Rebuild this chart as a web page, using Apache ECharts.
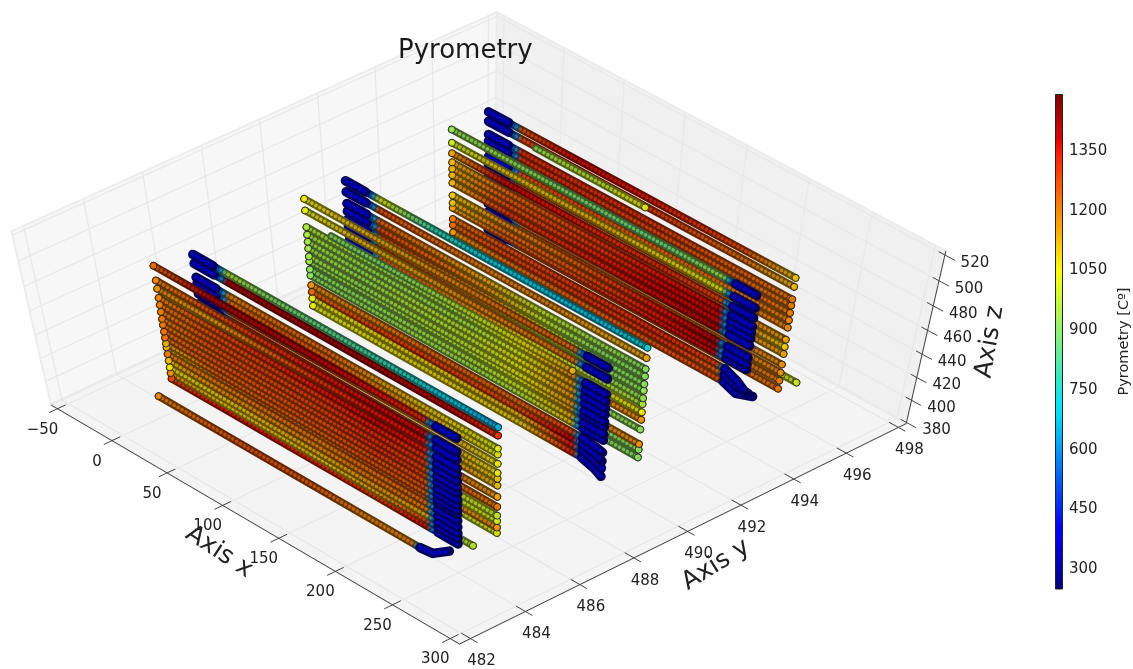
<!DOCTYPE html>
<html><head><meta charset="utf-8">
<style>html,body{margin:0;padding:0;background:#fff}#c{width:1133px;height:669px}</style>
<script src="https://cdn.jsdelivr.net/npm/echarts@6/dist/echarts.min.js"></script>
</head><body><div id="c"></div>
<script>
// ---------- axis ticks ----------
const xTicks=[-50,0,50,100,150,200,250,300];
const yTicks=[482,484,486,488,490,492,494,496,498];
const zTicks=[380,400,420,440,460,480,500,520];
const barTicks=[300,450,600,750,900,1050,1200,1350];
const xLim=[-56,308], yLim=[481.6,498.3], zLim=[379,523];
const barLim=[250,1493];
// ---------- readings: [z, endDz, endDy, T at six knots in order of increasing x] ----------
const wall1Front=[
[500,0,0,1230,1400,1400,1380,1350,1320],
[488.4,0,0,1190,1260,1300,1340,1370,1370],
[481.8,0,0,1170,1150,1230,1300,1350,1350],
[474.4,0,0,1190,1260,1310,1340,1370,1340],
[468.7,0,0,1200,1260,1280,1300,1340,1300],
[463,0,0,1200,1260,1280,1290,1320,1300],
[457.2,0,0,1210,1260,1270,1280,1310,1280],
[452.3,0,0,1210,1250,1260,1270,1310,1280],
[446.6,0,0,1220,1260,1260,1260,1290,1260],
[441.6,0,0,1220,1240,1250,1260,1260,1260],
[436.7,0,0,1130,1240,1240,1240,1260,1240],
[433.4,0,0,1130,1210,1230,1220,1240,1240],
[427.7,0,0,1200,1200,1210,1200,1220,1220],
[422,0,0,1120,1170,1170,1190,1210,1200],
[416.2,0,0,1060,1090,1110,1130,1160,1130],
[411.3,0,0,1170,1090,1100,1090,1130,1280],
[406.4,0,0,1280,1350,1340,1320,1290,1350]];
const wall1Back=[
[503,0,0,950,890,840,790,710,650],
[496,0,0,1410,1420,1420,1410,1390,1300],
[485,0,0,1190,1220,1220,1140,1080,1020],
[480,0,0,1220,1260,1220,1180,1100,1030],
[472,0,0,1260,1280,1240,1180,1140,1050],
[464,0,0,1300,1280,1260,1220,1140,1060],
[459,0,0,1300,1280,1260,1220,1140,1090],
[453,0,0,1300,1280,1260,1220,1170,1110],
[443,0,0,1300,1280,1260,1240,1220,1150],
[434,0,0,1300,1280,1260,1260,1240,1200],
[426,0,0,1260,1220,1180,1090,1010,990],
[421,0,0,1260,1220,1180,1090,1010,1010],
[415,0,0,1220,1190,1190,1170,1170,1170],
[410,0,0,990,990,990,990,990,1020]];
const wall1Lowest=[[396,3,0.35,1190,1240,1260,1240,1190,1190]];
const wall1Stray=[[385,0,0,940,940,940,940,940,980]];
const wall2Front=[
[498,0,0,1040,1110,1160,1190,1220,1220],
[489,0,0,1030,1110,1150,1180,1200,1200],
[476,0,0,960,940,940,960,1050,1180],
[470,0,0,950,930,940,960,1030,1160],
[464.4,0,0,940,930,960,980,1050,1160],
[459,0,0,940,930,960,980,1050,1160],
[452.6,0,0,940,930,960,980,1050,1160],
[448.6,0,0,930,930,950,970,1030,1160],
[442,0,0,910,920,940,960,1000,1130],
[437,0,0,910,920,940,940,970,1100],
[429,-3,0,1170,1190,1220,1230,1230,1280],
[423.4,-5,0,1230,1270,1290,1270,1270,1380],
[418,-6,0,1040,1060,1080,1090,1120,1350],
[411.6,-7,0,1030,1050,1070,1070,1090,1330]];
const wall2Short=[[480,0,0,910,900,940,990,1050,1130]];
const wall2Back=[
[496,0,0,1030,790,720,700,680,740],
[487.6,0,0,1260,1220,1190,1190,1140,1140],
[478.5,0,0,1230,1190,1130,990,940,910],
[472.5,0,0,1270,1220,1160,990,920,910],
[466,0,0,1270,1220,1160,990,920,910],
[460.5,0,0,1270,1220,1160,990,920,920],
[454,0,0,1270,1220,1160,990,940,930],
[449,0,0,1270,1220,1160,1020,970,960],
[442,0,0,1270,1220,1190,1090,1030,1050],
[435.5,0,0,1270,1220,1190,1170,1170,1170],
[427,0,0,1230,1190,1090,950,920,920],
[414,0,0,1230,1190,1190,1170,1170,1170],
[409,0,0,1190,1090,950,920,910,910],
[402,0,0,1140,1030,950,920,910,910]];
const wall3Front=[
[497,0,0,930,930,900,880,880,930],
[487,0,0,1000,1090,1110,1110,1070,1030],
[479,0,0,1150,1370,1350,1310,1310,1280],
[472,0,0,1120,1220,1260,1310,1350,1370],
[467,0,0,1130,1240,1280,1310,1370,1370],
[462,0,0,1130,1260,1290,1340,1370,1370],
[456,0,0,1130,1290,1310,1340,1370,1400],
[446,0,0,1100,1180,1220,1280,1350,1400],
[440,0,0,1110,1220,1240,1290,1350,1400],
[436,0,0,1150,1240,1260,1310,1350,1370],
[427,-9,0,1210,1260,1290,1300,1310,1280],
[422,-9,0.2,1230,1280,1290,1300,1300,1230],
[416,-8,0.4,1170,1220,1230,1240,1260,1260]];
const wall3Back=[
[502,0,0,1260,1370,1350,1310,1270,1100],
[495,0,0,1270,1350,1310,1270,1220,1120],
[485,0,0,1310,1310,1310,1270,1240,1200],
[480,0,0,1310,1310,1280,1260,1230,1200],
[474,0,0,1290,1290,1260,1240,1220,1200],
[468,0,0,1270,1270,1240,1230,1210,1190],
[462,0,0,1270,1270,1240,1230,1210,1180],
[452,0,0,1240,1240,1230,1210,1180,1150],
[446,0,0,1240,1240,1230,1200,1170,1100],
[440,0,0,1240,1240,1230,1200,1170,1140],
[431,0,0,1240,1240,1230,1210,1190,1170],
[424,0,0,1240,1240,1230,1210,1190,1180],
[417,0,0,1240,1240,1230,1210,1200,1200],
[410,0,0,1240,1240,1230,1210,1210,1210]];
const wall3TopShort=[[494,0,0,930,970,970,990,1030,1030]];
const wall3Stray=[[423,0,0,1000,1000,1000,1000,1000,1000]];
const coldT=[600,300,270,270];   // readings across the cold blue part of a pass
const knotsW1F=[-1,45,90,135,180,222], knotsW1B=[36,80,125,170,215,259.5];
const knotsW2F=[-1.5,45,90,135,180,222], knotsW2B=[25,70,115,160,205,247];
const knotsW3F=[-4,40,85,130,175,220], knotsW3B=[29,74,120,165,210,253.5];
const knotsW1L=[-2,45,90,135,180,218], knotsW1S=[15,60,105,150,195,239];
const knotsW2S=[20,60,100,140,180,222];
const knotsW3S=[41,60,80,100,115,132], knotsW3X=[0,50,100,150,210,267];
// [rows, y, knots, cold side, cold start/end x]
const families=[
 [wall3Stray,495.6,knotsW3X,'',0],[wall3Back,495.6,knotsW3B,'L',1],[wall3TopShort,495.6,knotsW3S,'',0],[wall3Front,494.5,knotsW3F,'R',248],
 [wall2Back,490.7,knotsW2B,'L',-3],[wall2Front,489.2,knotsW2F,'R',250],[wall2Short,489.2,knotsW2S,'',0],
 [wall1Stray,485,knotsW1S,'',0],[wall1Back,485,knotsW1B,'L',8],[wall1Front,484,knotsW1F,'R',250],[wall1Lowest,483.5,knotsW1L,'R',246]
];
// ---------- colour map ----------
const jetStops=[[0,0,0,127],[.11,0,0,255],[.125,0,0,255],[.35,0,219,255],[.375,0,229,247],[.64,255,255,0],[.66,255,234,0],[.89,255,18,0],[.91,223,0,0],[1,127,0,0]];
function jet(T,k){let t=Math.max(0,Math.min(1,(T-barLim[0])/(barLim[1]-barLim[0])));let i=0;while(i<jetStops.length-2&&t>jetStops[i+1][0])i++;
 const a=jetStops[i],b=jetStops[i+1],f=(t-a[0])/(b[0]-a[0]);k=k||1;
 return 'rgb('+[1,2,3].map(j=>Math.round((a[j]+(b[j]-a[j])*f)*k)).join(',')+')';}
// ---------- view of the 3D box ----------
const view={elev:62,azim:-42.6,dist:10,kx:632,ky:368,cx:478,cy:331.5};
const E=view.elev*Math.PI/180,A=view.azim*Math.PI/180;
const U=[-Math.sin(A),Math.cos(A),0],V=[-Math.sin(E)*Math.cos(A),-Math.sin(E)*Math.sin(A),Math.cos(E)],W=[Math.cos(E)*Math.cos(A),Math.cos(E)*Math.sin(A),Math.sin(E)];
function P(x,y,z){const n=[(x-xLim[0])/(xLim[1]-xLim[0])-.5,(y-yLim[0])/(yLim[1]-yLim[0])-.5,(z-zLim[0])/(zLim[1]-zLim[0])-.5];
 const d=(a,b)=>a[0]*b[0]+a[1]*b[1]+a[2]*b[2];const s=view.dist/(view.dist-d(n,W));
 return [view.cx+view.kx*d(n,U)*s,view.cy-view.ky*d(n,V)*s];}
// ---------- tracks ----------
const trackSeries=[],endDots=[];
families.forEach(([rows,y,knots,side,edge])=>{
 rows.slice().reverse().forEach(r=>{
  const [z,endDz,endDy]=r,T=r.slice(3);let pts=knots.map((x,i)=>[x,y,z,T[i]]);let cold=null;
  if(side==='R'){const c=[[edge-17,y,z,coldT[1]],[edge-6,y,z+endDz/2,coldT[2]],[edge,y+endDy,z+endDz,coldT[3]]];cold=c;pts=pts.concat([[edge-22,y,z,coldT[0]]],c);}
  if(side==='L'){const c=[[edge,y,z,coldT[3]],[edge+17,y,z,coldT[1]]];cold=c;pts=c.concat([[edge+22,y,z,coldT[0]]],pts);}
  const xy=pts.map(p=>P(p[0],p[1],p[2])),a=xy[0],b=xy[xy.length-1],x0=pts[0][0],x1=pts[pts.length-1][0];
  const grad=k=>({type:'linear',x:a[0],y:a[1],x2:b[0],y2:b[1],global:true,colorStops:pts.map(p=>({offset:(p[0]-x0)/(x1-x0),color:jet(p[3],k)}))});
  const base={type:'line',xAxisIndex:0,yAxisIndex:0,data:xy,symbol:'none',silent:true,animation:false,clip:false,z:3};
  trackSeries.push(Object.assign({},base,{lineStyle:{width:7.6,color:grad(.4),cap:'round',join:'round'}}));
  trackSeries.push(Object.assign({},base,{lineStyle:{width:3.6,color:grad(.76),cap:'round',type:[.1,4.4]}}));
  if(cold){const cxy=cold.map(p=>P(p[0],p[1],p[2]));
   trackSeries.push(Object.assign({},base,{data:cxy,lineStyle:{width:9.5,color:'#000058',cap:'round',join:'round'}}));
   trackSeries.push(Object.assign({},base,{data:cxy,lineStyle:{width:5,color:'#0000b4',cap:'round',type:[.1,5.2]}}));}
  const e=side==='L'||side===''?pts[pts.length-1]:pts[0];const ep=P(e[0],e[1],e[2]);
  endDots.push({value:ep,itemStyle:{color:jet(e[3])}});
 });
});
// ---------- box ----------
const [x0,x1]=xLim,[y0,y1]=yLim,[z0,z1]=zLim;
const panes=[
 {fill:'#f4f4f4',c:[[x0,y0,z0],[x1,y0,z0],[x1,y1,z0],[x0,y1,z0]]},
 {fill:'#f7f7f7',c:[[x0,y0,z0],[x0,y1,z0],[x0,y1,z1],[x0,y0,z1]]},
 {fill:'#f0f0f0',c:[[x0,y1,z0],[x1,y1,z0],[x1,y1,z1],[x0,y1,z1]]}];
const gridSeg=[];
xTicks.forEach(t=>{gridSeg.push([[t,y0,z0],[t,y1,z0]],[[t,y1,z0],[t,y1,z1]]);});
yTicks.forEach(t=>{gridSeg.push([[x0,t,z0],[x1,t,z0]],[[x0,t,z0],[x0,t,z1]]);});
zTicks.filter(t=>t>=z0).forEach(t=>{gridSeg.push([[x0,y0,t],[x0,y1,t]],[[x0,y1,t],[x1,y1,t]]);});
const axisSeg=[[[x0,y0,z0],[x1,y0,z0]],[[x1,y0,z0],[x1,y1,z0]],[[x1,y1,z0],[x1,y1,z1]]];
xTicks.forEach(t=>axisSeg.push([[t,y0-.3,z0],[t,y0+.3,z0]]));
yTicks.forEach(t=>axisSeg.push([[x1-8,t,z0],[x1+6,t,z0]]));
zTicks.forEach(t=>axisSeg.push([[x1-5,y1,t],[x1+8,y1,t]]));
const tickLabels=[];
xTicks.forEach(t=>{const p=P(t,y0,z0);tickLabels.push([p[0]-15,p[1]+21,t<0?'\u2212'+(-t):String(t)]);});
yTicks.forEach(t=>{const p=P(x1,t,z0);tickLabels.push([p[0]+11,p[1]+23,String(t)]);});
zTicks.forEach(t=>{const p=P(x1,y1,t);tickLabels.push([p[0]+30,p[1]+8,String(t)]);});
const axisNames=[[219,552,'Axis x',-0.58],[716,565,'Axis y',0.56],[990,342,'Axis z',1.4]];
const font='"DejaVu Sans"';
const segRender=(list,stroke,w)=>(params,api)=>{const s=list[params.dataIndex];const a=P.apply(null,s[0]),b=P.apply(null,s[1]);const p=api.coord(a),q=api.coord(b);
 return {type:'line',shape:{x1:p[0],y1:p[1],x2:q[0],y2:q[1]},style:{stroke:stroke,lineWidth:w}};};
const opt={animation:false,backgroundColor:'#fff',
 title:{text:'Pyrometry',left:393,top:33,textStyle:{fontFamily:font,fontSize:26,fontWeight:'normal',color:'#1a1a1a'}},
 grid:[{left:0,right:0,top:0,bottom:0,containLabel:false},{left:1055,width:11,top:94,height:495}],
 xAxis:[{type:'value',min:0,max:1133,show:false,gridIndex:0},{type:'category',data:[''],show:false,gridIndex:1}],
 yAxis:[{type:'value',min:0,max:669,inverse:true,show:false,gridIndex:0},
  {type:'value',gridIndex:1,position:'right',min:barLim[0],max:barLim[1],splitLine:{show:false},axisLine:{show:false},
   axisTick:{show:true,inside:true,length:4,lineStyle:{color:'#333'},customValues:barTicks},
   axisLabel:{customValues:barTicks,formatter:v=>String(v),margin:6,fontFamily:font,fontSize:15,color:'#222'},
   name:'Pyrometry [C\u00ba]',nameLocation:'middle',nameRotate:90,nameGap:54,nameTextStyle:{fontFamily:font,fontSize:14.5,color:'#222'}}],
 series:[
  {type:'custom',xAxisIndex:0,yAxisIndex:0,silent:true,clip:false,z:1,data:panes.map((_,i)=>i),
   renderItem:(params,api)=>{const q=panes[params.dataIndex];return {type:'polygon',shape:{points:q.c.map(c=>api.coord(P.apply(null,c)))},style:{fill:q.fill,stroke:'#ececec',lineWidth:2}};}},
  {type:'custom',xAxisIndex:0,yAxisIndex:0,silent:true,clip:false,z:2,data:gridSeg.map((_,i)=>i),renderItem:segRender(gridSeg,'#e8e8e8',1.3)},
  {type:'custom',xAxisIndex:0,yAxisIndex:0,silent:true,clip:false,z:2,data:axisSeg.map((_,i)=>i),renderItem:segRender(axisSeg,'#444',1)},
  ...trackSeries,
  {type:'scatter',xAxisIndex:0,yAxisIndex:0,silent:true,clip:false,z:4,symbolSize:7,data:endDots,itemStyle:{borderColor:'#111',borderWidth:1}},
  {type:'custom',xAxisIndex:0,yAxisIndex:0,silent:true,clip:false,z:5,data:tickLabels.map((_,i)=>i),
   renderItem:(params,api)=>{const l=tickLabels[params.dataIndex],p=api.coord([l[0],l[1]]);return {type:'text',x:p[0],y:p[1],style:{text:l[2],align:'center',verticalAlign:'middle',fontFamily:font,fontSize:15,fill:'#222'}};}},
  {type:'custom',xAxisIndex:0,yAxisIndex:0,silent:true,clip:false,z:6,data:axisNames.map((_,i)=>i),
   renderItem:(params,api)=>{const l=axisNames[params.dataIndex],p=api.coord([l[0],l[1]]);return {type:'text',x:p[0],y:p[1],rotation:l[3],style:{text:l[2],align:'center',verticalAlign:'middle',fontFamily:font,fontSize:25,fill:'#222'}};}},
  {type:'bar',xAxisIndex:1,yAxisIndex:1,data:[barLim[1]],barWidth:'100%',silent:true,
   itemStyle:{borderColor:'#222',borderWidth:1,color:{type:'linear',x:0,y:1,x2:0,y2:0,colorStops:jetStops.map(s=>({offset:s[0],color:'rgb('+s[1]+','+s[2]+','+s[3]+')'}))}}}
 ]};
echarts.init(document.getElementById('c'),null,{renderer:'canvas'}).setOption(opt);
</script></body></html>
